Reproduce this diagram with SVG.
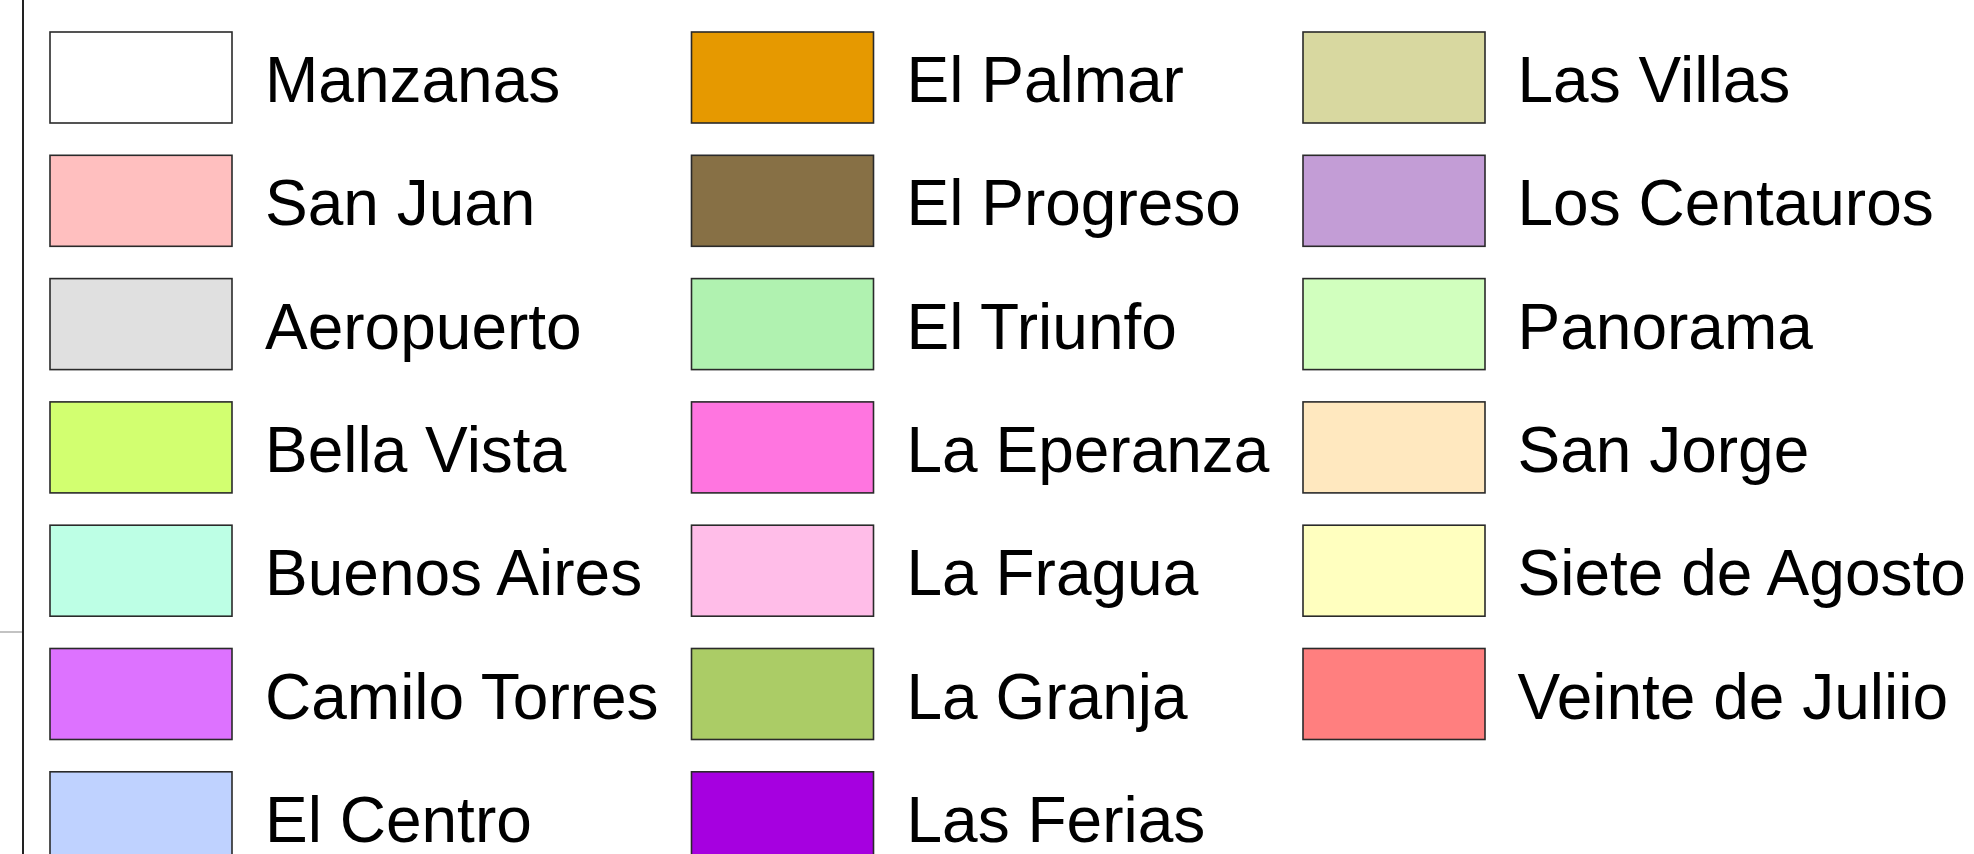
<svg xmlns="http://www.w3.org/2000/svg" width="1974" height="854" viewBox="0 0 1974 854">
<style>
.sw{stroke:#2a2a2a;stroke-width:1.6}
.lb{font-family:"Liberation Sans",Arial,sans-serif;font-size:64px;fill:#000}
</style>
<rect x="0" y="0" width="1974" height="854" fill="#fff"/>
<g id="frame">
<line x1="0" y1="632" x2="23" y2="632" stroke="#9a9a9a" stroke-width="1.2"/>
<line x1="23" y1="0" x2="23" y2="854" stroke="#222" stroke-width="2"/>
</g>
<g id="connectors"></g>
<g id="col1">
<g id="manzanas"><rect class="sw" x="50" y="32" width="182" height="91" fill="#ffffff" stroke="#444"/><text class="lb" x="265" y="102">Manzanas</text></g>
<g id="san-juan"><rect class="sw" x="50" y="155.3" width="182" height="91" fill="#ffbfbf"/><text class="lb" x="265" y="225.3">San Juan</text></g>
<g id="aeropuerto"><rect class="sw" x="50" y="278.6" width="182" height="91" fill="#e0e0e0" stroke="#555"/><text class="lb" x="265" y="348.6">Aeropuerto</text></g>
<g id="bella-vista"><rect class="sw" x="50" y="401.9" width="182" height="91" fill="#d2ff70"/><text class="lb" x="265" y="471.9">Bella Vista</text></g>
<g id="buenos-aires"><rect class="sw" x="50" y="525.2" width="182" height="91" fill="#bdffe5" stroke="#111"/><text class="lb" x="265" y="595.2">Buenos Aires</text></g>
<g id="camilo-torres"><rect class="sw" x="50" y="648.5" width="182" height="91" fill="#dd72ff"/><text class="lb" x="265" y="718.5">Camilo Torres</text></g>
<g id="el-centro"><rect class="sw" x="50" y="771.8" width="182" height="91" fill="#bfd2ff"/><text class="lb" x="265" y="841.8">El Centro</text></g>
</g>
<g id="col2">
<g id="el-palmar"><rect class="sw" x="691.5" y="32" width="182" height="91" fill="#e69900"/><text class="lb" x="906.5" y="102">El Palmar</text></g>
<g id="el-progreso"><rect class="sw" x="691.5" y="155.3" width="182" height="91" fill="#877045"/><text class="lb" x="906.5" y="225.3">El Progreso</text></g>
<g id="el-triunfo"><rect class="sw" x="691.5" y="278.6" width="182" height="91" fill="#b0f2b0"/><text class="lb" x="906.5" y="348.6">El Triunfo</text></g>
<g id="la-eperanza"><rect class="sw" x="691.5" y="401.9" width="182" height="91" fill="#ff75e0"/><text class="lb" x="906.5" y="471.9">La Eperanza</text></g>
<g id="la-fragua"><rect class="sw" x="691.5" y="525.2" width="182" height="91" fill="#ffbde8"/><text class="lb" x="906.5" y="595.2">La Fragua</text></g>
<g id="la-granja"><rect class="sw" x="691.5" y="648.5" width="182" height="91" fill="#abcc66"/><text class="lb" x="906.5" y="718.5">La Granja</text></g>
<g id="las-ferias"><rect class="sw" x="691.5" y="771.8" width="182" height="91" fill="#a600e0"/><text class="lb" x="906.5" y="841.8">Las Ferias</text></g>
</g>
<g id="col3">
<g id="las-villas"><rect class="sw" x="1303" y="32" width="182" height="91" fill="#d8d8a0"/><text class="lb" x="1517.5" y="102">Las Villas</text></g>
<g id="los-centauros"><rect class="sw" x="1303" y="155.3" width="182" height="91" fill="#c39dd6"/><text class="lb" x="1517.5" y="225.3">Los Centauros</text></g>
<g id="panorama"><rect class="sw" x="1303" y="278.6" width="182" height="91" fill="#d1ffbe"/><text class="lb" x="1517.5" y="348.6">Panorama</text></g>
<g id="san-jorge"><rect class="sw" x="1303" y="401.9" width="182" height="91" fill="#ffe8bf"/><text class="lb" x="1517.5" y="471.9">San Jorge</text></g>
<g id="siete-de-agosto"><rect class="sw" x="1303" y="525.2" width="182" height="91" fill="#ffffbf"/><text class="lb" x="1517.5" y="595.2">Siete de Agosto</text></g>
<g id="veinte-de-juliio"><rect class="sw" x="1303" y="648.5" width="182" height="91" fill="#ff7f7f"/><text class="lb" x="1517.5" y="718.5">Veinte de Juliio</text></g>
</g>
</svg>
